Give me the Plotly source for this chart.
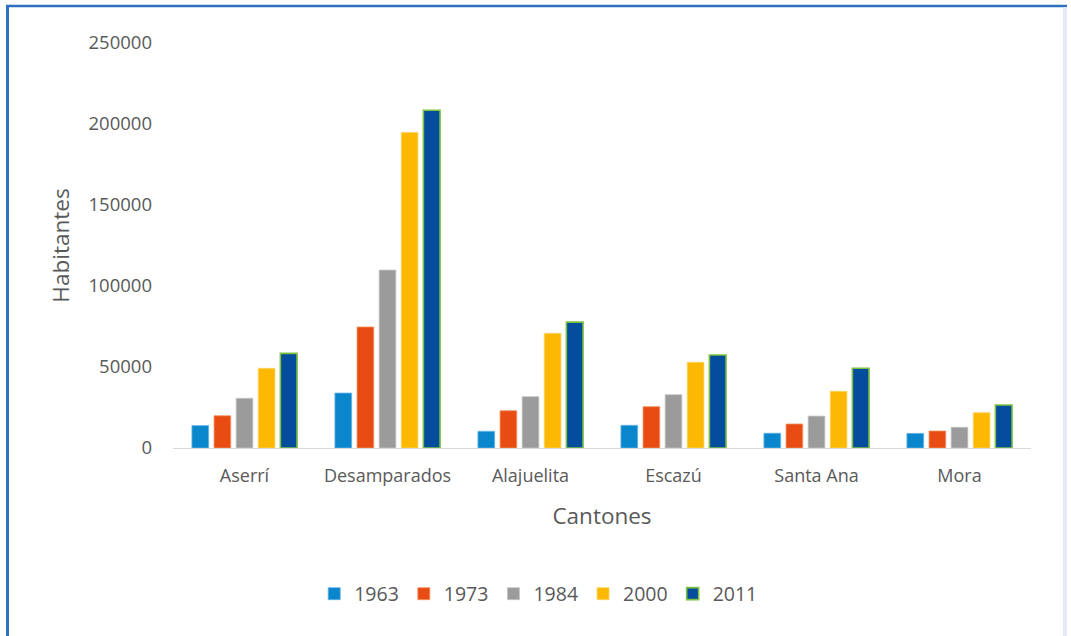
import plotly.graph_objects as go

# Population by canton and census year
cantones = ["Aserrí", "Desamparados", "Alajuelita", "Escazú", "Santa Ana", "Mora"]
years = ["1963", "1973", "1984", "2000", "2011"]
pop_1963 = [13800, 33900, 10300, 14000, 9100, 9000]
pop_1973 = [19900, 74700, 23000, 25500, 14800, 10500]
pop_1984 = [30700, 109800, 31700, 32900, 19700, 12800]
pop_2000 = [49200, 194800, 70800, 52900, 35000, 21800]
pop_2011 = [58400, 208500, 77700, 57400, 49200, 26500]
series = [pop_1963, pop_1973, pop_1984, pop_2000, pop_2011]
y_ticks = [0, 50000, 100000, 150000, 200000, 250000]

colors = ["#0a86cd", "#e84c12", "#9b9b9b", "#fdb902", "#034d9c"]
outlines = ["#5fb0e3", "#f3905f", "#c4c4c4", "#fdd466", "#7cc142"]
outline_w = [0.8, 0.8, 0.8, 0.8, 1.6]

W, H = 1071, 636
ML, MR, MT, MB = 173, 40, 43, 188
PW, PH = W - ML - MR, H - MT - MB


def px_x(px):
    return (px - ML) / PW


def px_y(py):
    return (H - MB - py) / PH


TXT = "#595959"
FONT = "Open Sans"

fig = go.Figure()
for name, vals, c, oc, ow in zip(years, series, colors, outlines, outline_w):
    fig.add_trace(go.Bar(
        x=cantones, y=vals, name=name,
        marker=dict(color=c, line=dict(color=oc, width=ow)),
    ))

fig.update_layout(
    width=W, height=H,
    margin=dict(l=ML, r=MR, t=MT, b=MB, autoexpand=False),
    paper_bgcolor="white", plot_bgcolor="white",
    barmode="group", bargap=0.227, bargroupgap=0.245,
    font=dict(family=FONT, color=TXT),
    xaxis=dict(
        showline=True, linecolor="#d9d9d9", linewidth=1,
        showgrid=False, ticks="", tickfont=dict(size=18, color=TXT),
        ticklabelstandoff=11,
        title=dict(text="Cantones", font=dict(size=22.5, color=TXT), standoff=22),
    ),
    yaxis=dict(
        range=[0, 250000], tickvals=y_ticks, tickformat="d",
        showline=False, showgrid=False, zeroline=False, ticks="",
        tickfont=dict(size=18.5, color=TXT), ticklabelstandoff=20,
        title=dict(text="Habitantes", font=dict(size=22.5, color=TXT), standoff=12),
    ),
    legend=dict(
        orientation="h", xref="container", yref="container",
        x=0.503, xanchor="center", y=1 - 594 / H, yanchor="middle",
        font=dict(size=19.5, color=TXT), itemwidth=30, traceorder="normal",
    ),
    showlegend=True,
)

# Frame around the chart: blue on the left and top, pale on the right
fig.add_shape(type="line", xref="paper", yref="paper",
              x0=px_x(7.5), x1=px_x(7.5), y0=px_y(5), y1=px_y(H + 2),
              line=dict(color="#2f6fc1", width=3))
fig.add_shape(type="line", xref="paper", yref="paper",
              x0=px_x(6), x1=px_x(1067), y0=px_y(6), y1=px_y(6),
              line=dict(color="#2f6fc1", width=2.5))
fig.add_shape(type="line", xref="paper", yref="paper",
              x0=px_x(1065), x1=px_x(1065), y0=px_y(7), y1=px_y(H + 2),
              line=dict(color="#e3e9f6", width=4))

fig.write_html("out.html")
